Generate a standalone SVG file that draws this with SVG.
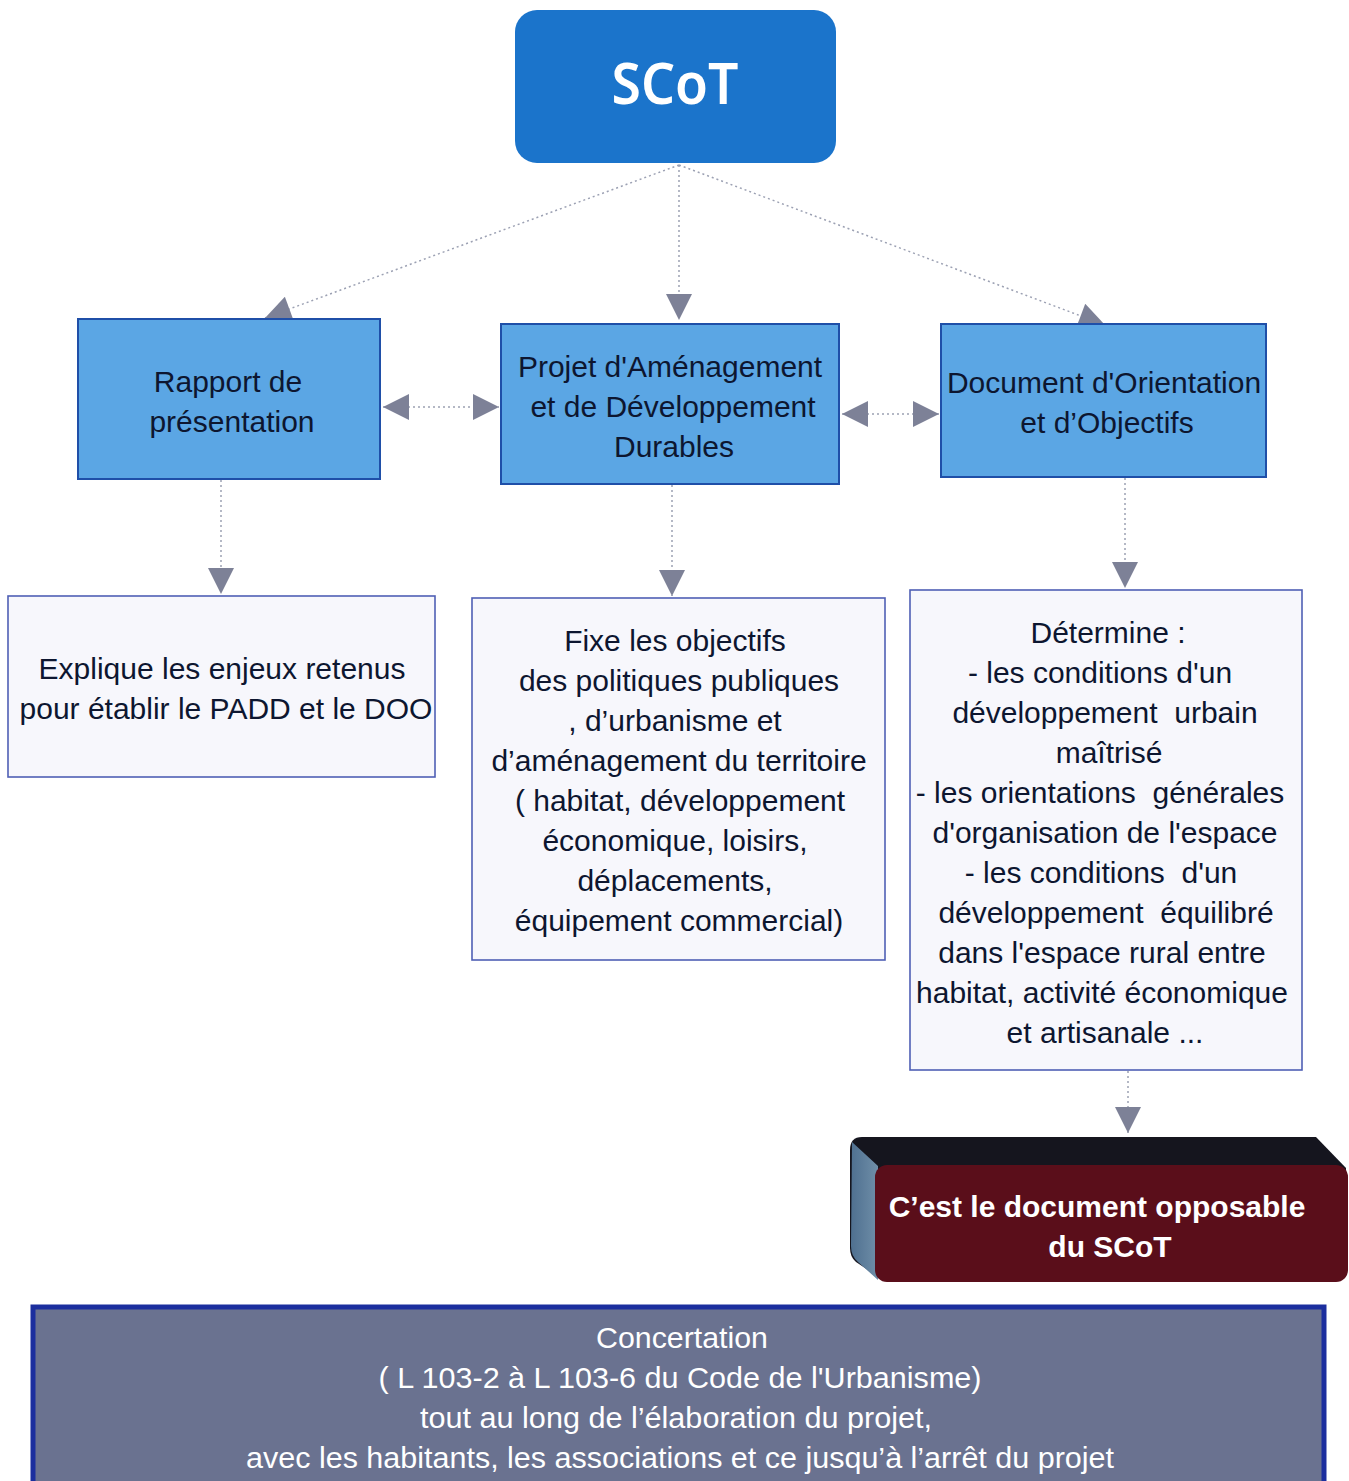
<svg xmlns="http://www.w3.org/2000/svg" width="1349" height="1481" viewBox="0 0 1349 1481">
<defs>
<style>
.blue{fill:#5ba6e4;stroke:#1f4fa8;stroke-width:2}
.white{fill:#f7f7fc;stroke:#4f5fb5;stroke-width:1.6}
.t{font-family:"Liberation Sans",Arial,sans-serif;font-size:30px;fill:#0d1630;text-anchor:middle;white-space:pre}
.tw{font-family:"Liberation Sans",Arial,sans-serif;font-size:30px;fill:#ffffff;text-anchor:middle}
.conn{stroke:#9ca1b3;stroke-width:1.5;stroke-dasharray:2 3;fill:none}
</style>
<marker id="ah" viewBox="0 0 10 10" refX="10" refY="5" markerUnits="userSpaceOnUse" markerWidth="38" markerHeight="26" orient="auto-start-reverse">
<path d="M0,0 L10,5 L0,10 z" fill="#7d8197"/>
</marker>
<linearGradient id="side" x1="0" y1="0" x2="1" y2="0">
<stop offset="0" stop-color="#4f7090"/>
<stop offset="1" stop-color="#6f8ea8"/>
</linearGradient>
</defs>

<g id="connectors">
<line class="conn" x1="679" y1="165" x2="265" y2="318" marker-end="url(#ah)"/>
<line class="conn" x1="679" y1="165" x2="679" y2="320" marker-end="url(#ah)"/>
<line class="conn" x1="679" y1="165" x2="1105" y2="325" marker-end="url(#ah)"/>
<line class="conn" x1="383" y1="407" x2="499" y2="407" marker-start="url(#ah)" marker-end="url(#ah)"/>
<line class="conn" x1="842" y1="414" x2="939" y2="414" marker-start="url(#ah)" marker-end="url(#ah)"/>
<line class="conn" x1="221" y1="480" x2="221" y2="594" marker-end="url(#ah)"/>
<line class="conn" x1="672" y1="485" x2="672" y2="596" marker-end="url(#ah)"/>
<line class="conn" x1="1125" y1="478" x2="1125" y2="588" marker-end="url(#ah)"/>
<line class="conn" x1="1128" y1="1071" x2="1128" y2="1133" marker-end="url(#ah)"/>
</g>

<g id="scot">
<rect x="515" y="10" width="321" height="153" rx="22" fill="#1b74cb"/>
<text x="675" y="104" font-family="'Noto Sans','DejaVu Sans',sans-serif" font-size="57" font-weight="600" fill="#ffffff" text-anchor="middle" textLength="127" lengthAdjust="spacingAndGlyphs">SCoT</text>
</g>

<g id="rapport">
<rect class="blue" x="78" y="319" width="302" height="160"/>
<text class="t" x="228" y="392">Rapport de</text>
<text class="t" x="232" y="432">présentation</text>
</g>

<g id="padd">
<rect class="blue" x="501" y="324" width="338" height="160"/>
<text class="t" x="670" y="377">Projet d'Aménagement</text>
<text class="t" x="673" y="417">et de Développement</text>
<text class="t" x="674" y="457">Durables</text>
</g>

<g id="doo">
<rect class="blue" x="941" y="324" width="325" height="153"/>
<text class="t" x="1104" y="393">Document d'Orientation</text>
<text class="t" x="1107" y="433">et d’Objectifs</text>
</g>

<g id="explique">
<rect class="white" x="8" y="596" width="427" height="181"/>
<text class="t" x="222" y="679">Explique les enjeux retenus</text>
<text class="t" x="226" y="719">pour établir le PADD et le DOO</text>
</g>

<g id="fixe">
<rect class="white" x="472" y="598" width="413" height="362"/>
<text class="t" x="675" y="651">Fixe les objectifs</text>
<text class="t" x="679" y="691">des politiques publiques</text>
<text class="t" x="675" y="731">, d’urbanisme et</text>
<text class="t" x="679" y="771">d’aménagement du territoire</text>
<text class="t" x="680" y="811">( habitat, développement</text>
<text class="t" x="675" y="851">économique, loisirs,</text>
<text class="t" x="675" y="891">déplacements,</text>
<text class="t" x="679" y="931">équipement commercial)</text>
</g>

<g id="determine">
<rect class="white" x="910" y="590" width="392" height="480"/>
<text class="t" x="1108" y="643">Détermine :</text>
<text class="t" x="1100" y="683">- les conditions d'un</text>
<text class="t" x="1105" y="723" xml:space="preserve">développement  urbain</text>
<text class="t" x="1109" y="763">maîtrisé</text>
<text class="t" x="1100" y="803" xml:space="preserve">- les orientations  générales</text>
<text class="t" x="1105" y="843">d'organisation de l'espace</text>
<text class="t" x="1101" y="883" xml:space="preserve">- les conditions  d'un</text>
<text class="t" x="1106" y="923" xml:space="preserve">développement  équilibré</text>
<text class="t" x="1102" y="963">dans l'espace rural entre</text>
<text class="t" x="1102" y="1003">habitat, activité économique</text>
<text class="t" x="1105" y="1043">et artisanale ...</text>
</g>

<g id="opposable">
<path d="M862,1137 L1316,1137 L1346,1168 L1346,1270 L880,1278 L856,1262 Q850,1257 850,1248 L850,1150 Q850,1137 862,1137 Z" fill="#15151e"/>
<path d="M852,1142 L878,1166 L878,1280 L858,1262 Q851,1256 851,1246 Z" fill="url(#side)"/>
<rect x="875" y="1165" width="473" height="117" rx="12" fill="#5a0e1a"/>
<text class="tw" x="1097" y="1217" font-weight="bold">C’est le document opposable</text>
<text class="tw" x="1110" y="1257" font-weight="bold">du SCoT</text>
</g>

<g id="concertation">
<rect x="33" y="1307" width="1291" height="180" fill="#6a7290" stroke="#1b2e9e" stroke-width="5"/>
<text class="tw" x="682" y="1348" textLength="172" lengthAdjust="spacingAndGlyphs">Concertation</text>
<text class="tw" x="680" y="1388" textLength="603" lengthAdjust="spacingAndGlyphs">( L 103-2 à L 103-6 du Code de l'Urbanisme)</text>
<text class="tw" x="676" y="1428" textLength="512" lengthAdjust="spacingAndGlyphs">tout au long de l’élaboration du projet,</text>
<text class="tw" x="680" y="1468" textLength="868" lengthAdjust="spacingAndGlyphs">avec les habitants, les associations et ce jusqu’à l’arrêt du projet</text>
</g>
</svg>
